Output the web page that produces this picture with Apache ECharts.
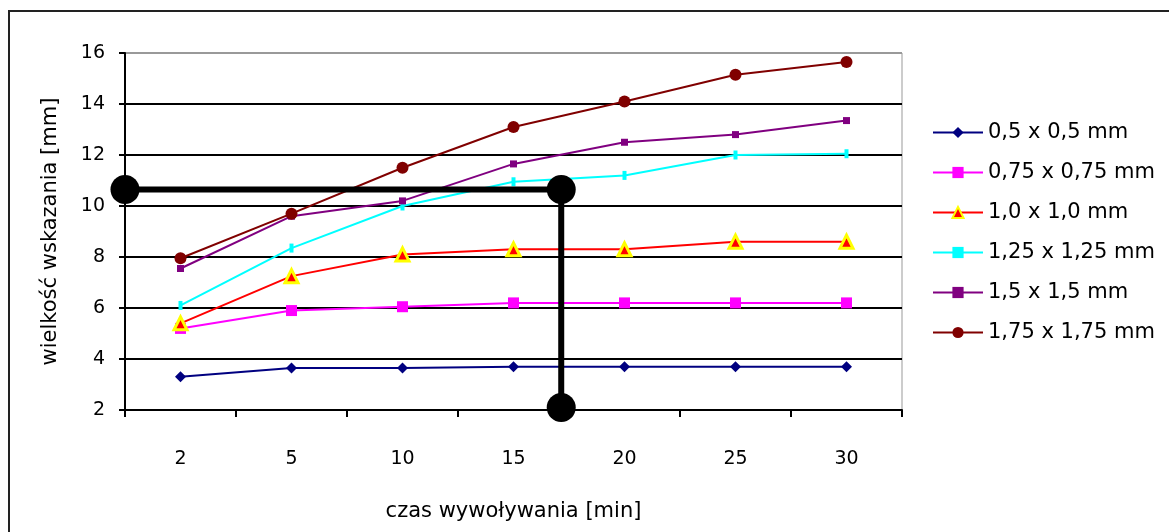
<!DOCTYPE html>
<html>
<head>
<meta charset="utf-8">
<script src="https://cdn.jsdelivr.net/npm/echarts@6/dist/echarts.min.js"></script>
<style>html,body{margin:0;padding:0;background:#fff;}#c{width:1169px;height:532px;}</style>
</head>
<body>
<div id="c"></div>
<script>
const categories = ['2', '5', '10', '15', '20', '25', '30'];
const seriesNames = ['0,5 x 0,5 mm', '0,75 x 0,75 mm', '1,0 x 1,0 mm', '1,25 x 1,25 mm', '1,5 x 1,5 mm', '1,75 x 1,75 mm'];
const s05 = [3.3, 3.65, 3.65, 3.7, 3.7, 3.7, 3.7];
const s075 = [5.2, 5.9, 6.05, 6.2, 6.2, 6.2, 6.2];
const s10 = [5.4, 7.25, 8.1, 8.3, 8.3, 8.6, 8.6];
const s125 = [6.1, 8.35, 10.0, 10.95, 11.2, 12.0, 12.05];
const s15 = [7.55, 9.6, 10.2, 11.65, 12.5, 12.8, 13.35];
const s175 = [7.95, 9.7, 11.5, 13.1, 14.1, 15.15, 15.65];
// annotation: x in category-index units, y in mm
const annotX = [-0.5, 3.43, 3.43];
const annotY = [10.65, 10.65, 2.1];
const yTicks = [2, 16, 2]; // min, max, interval

const FONT = 'DejaVu Sans';
const chart = echarts.init(document.getElementById('c'), null, {renderer: 'canvas'});

function lineSeries(name, data, color, symbol, size, extraItem) {
  return {
    name: name, type: 'line', data: data, xAxisIndex: 0,
    symbol: symbol, symbolSize: size, smooth: false,
    lineStyle: {color: color, width: 2},
    itemStyle: Object.assign({color: color}, extraItem || {}),
    z: 3
  };
}

const option = {
  animation: false,
  backgroundColor: '#fff',
  textStyle: {fontFamily: FONT},
  grid: {left: 125, top: 53, right: 267, bottom: 122, show: true, borderColor: '#999', borderWidth: 1},
  legend: {
    orient: 'vertical', left: 932, top: 122, padding: 0,
    data: seriesNames,
    itemWidth: 50, itemHeight: 14, itemGap: 19,
    textStyle: {fontFamily: FONT, fontSize: 21, color: '#000', padding: [0, 0, 0, 0]}
  },
  xAxis: [{
    type: 'category', data: categories, boundaryGap: true,
    name: 'czas wywoływania [min]', nameLocation: 'middle', nameGap: 91,
    nameTextStyle: {fontFamily: FONT, fontSize: 21, color: '#000'},
    axisLine: {onZero: false, lineStyle: {color: '#000', width: 2}},
    axisTick: {show: true, length: 7, lineStyle: {color: '#000', width: 2}},
    axisLabel: {fontFamily: FONT, fontSize: 19, color: '#000', margin: 40},
    splitLine: {show: false}
  }, {
    type: 'value', min: -0.5, max: 6.5, show: false
  }],
  yAxis: {
    type: 'value', min: yTicks[0], max: yTicks[1], interval: yTicks[2],
    name: 'wielkość wskazania [mm]', nameLocation: 'middle', nameGap: 64,
    nameTextStyle: {fontFamily: FONT, fontSize: 21, color: '#000'},
    axisLine: {show: true, onZero: false, lineStyle: {color: '#000', width: 2}},
    axisTick: {show: true, length: 6, lineStyle: {color: '#000', width: 2}},
    axisLabel: {fontFamily: FONT, fontSize: 19, color: '#000', margin: 20},
    splitLine: {show: true, lineStyle: {color: ['#000', '#000', '#000', '#000', '#000', '#000', '#000', '#999'], width: 2}}
  },
  graphic: [{
    type: 'polyline', silent: true,
    shape: {points: [[9, 540], [9, 11], [1175, 11]]},
    style: {stroke: '#222', lineWidth: 2, fill: null}
  }],
  series: [
    lineSeries(seriesNames[0], s05, '#000080', 'diamond', 11),
    lineSeries(seriesNames[1], s075, '#ff00ff', 'rect', 11),
    lineSeries(seriesNames[2], s10, '#ff0000', 'triangle', 13, {borderColor: '#ffff00', borderWidth: 3}),
    lineSeries(seriesNames[3], s125, '#00ffff', 'rect', [4, 9]),
    lineSeries(seriesNames[4], s15, '#800080', 'rect', 7),
    lineSeries(seriesNames[5], s175, '#800000', 'circle', 12),
    {
      name: 'annot', type: 'line', xAxisIndex: 1,
      data: annotX.map((x, i) => [x, annotY[i]]),
      symbol: 'circle', symbolSize: 29, clip: false,
      lineStyle: {color: '#000', width: 6},
      itemStyle: {color: '#000'},
      z: 5
    }
  ]
};
chart.setOption(option);
</script>
</body>
</html>
